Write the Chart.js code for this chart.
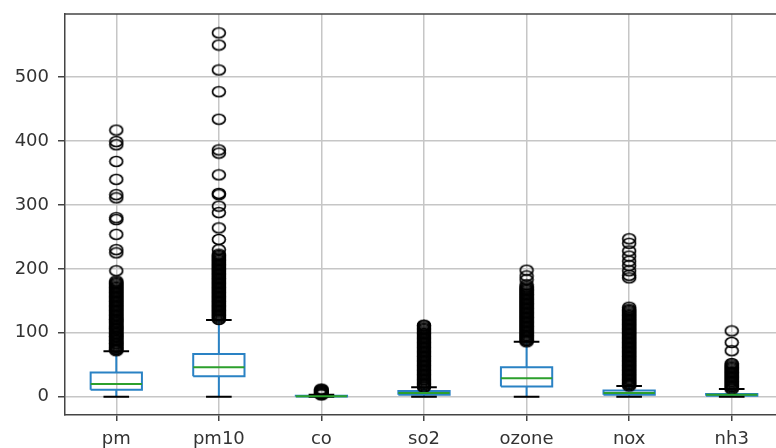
<!DOCTYPE html>
<html>
<head>
<meta charset="utf-8">
<script src="https://cdn.jsdelivr.net/npm/chart.js@4"></script>
<style>
  html, body { margin: 0; padding: 0; background: #fff; overflow: hidden; }
  #wrap { width: 790px; height: 448px; }
</style>
</head>
<body>
<div id="wrap"><canvas id="box" width="790" height="448"></canvas></div>
<script>
// ─── DATA ───────────────────────────────
const categories = ['pm', 'pm10', 'co', 'so2', 'ozone', 'nox', 'nh3'];
const yTicks = [0, 100, 200, 300, 400, 500];

// five-number summaries
const whiskerLow  = [0,  0,   0,   0,  0,  0,  0];
const quart1      = [11, 32,  0.5, 3,  16, 3,  1.5];
const medians     = [20, 46,  0.9, 6,  29, 6,  3];
const quart3      = [38, 67,  1.5, 9,  46, 10, 4.5];
const whiskerHigh = [71, 120, 3,   15, 86, 17, 12];

// fliers (the dense black columns are many overlapping circles)
const fliersPm = [72, 74, 75, 77, 79, 81, 83, 84, 86, 88, 90, 92, 94, 95, 97, 99, 101, 103, 105, 107,
  108, 110, 112, 114, 116, 118, 120, 121, 123, 125, 127, 129, 131, 133, 135, 137, 139, 141, 143, 145,
  147, 149, 151, 153, 155, 157, 159, 161, 163, 165, 167, 169, 171, 173, 175, 177, 179, 181,
  197, 225, 230, 254, 277, 280, 311, 316, 340, 368, 394, 399, 417];
const fliersPm10 = [121, 123, 125, 127, 129, 131, 133, 135, 137, 139, 141, 143, 145, 147, 149, 151,
  153, 155, 157, 159, 161, 163, 165, 167, 169, 171, 173, 175, 177, 179, 181, 183, 185, 187, 189, 191,
  193, 195, 197, 199, 201, 203, 205, 207, 209, 211, 213, 215, 217, 219, 221, 223,
  230, 246, 264, 288, 298, 316, 318, 347, 381, 386, 434, 477, 511, 550, 569];
const fliersCo = [3, 4, 5, 6, 7, 8, 9, 10, 11, 12];
const fliersSo2 = [15, 17, 19, 21, 23, 25, 27, 29, 31, 33, 35, 37, 39, 41, 43, 45, 47, 49, 51, 53,
  55, 57, 59, 61, 63, 65, 67, 69, 71, 73, 75, 77, 79, 81, 83, 85, 87, 89, 91, 93, 95, 97, 99, 101,
  103, 105, 107, 109, 111, 112];
const fliersOzone = [86, 88, 90, 92, 94, 96, 98, 100, 102, 104, 106, 108, 110, 112, 114, 116, 118,
  120, 122, 124, 126, 128, 130, 132, 134, 136, 138, 140, 142, 144, 146, 148, 150, 152, 154, 156, 158,
  160, 162, 164, 166, 168, 170, 172, 175, 183, 189, 198];
const fliersNox = [17, 19, 21, 23, 25, 27, 29, 31, 33, 35, 37, 39, 41, 43, 45, 47, 49, 51, 53, 55,
  57, 59, 61, 63, 65, 67, 69, 71, 73, 75, 77, 79, 81, 83, 85, 87, 89, 91, 93, 95, 97, 99, 101, 103,
  105, 107, 109, 111, 113, 115, 117, 119, 121, 123, 125, 127, 129, 131, 133, 135, 137, 140,
  186, 190, 197, 205, 212, 220, 228, 240, 247];
const fliersNh3 = [12, 14, 16, 18, 20, 22, 24, 26, 28, 30, 32, 34, 36, 38, 40, 42, 44, 46, 48, 50, 52,
  72, 85, 103];
const fliers = [fliersPm, fliersPm10, fliersCo, fliersSo2, fliersOzone, fliersNox, fliersNh3];


// ─── BUILD SEGMENTS ─────────────────────
const BOX_HALF = 0.25;
const CAP_HALF = 0.125;
const gap = i => ({ x: i, y: null });

const boxPts = [], medPts = [], whiskPts = [], capPts = [], flierPts = [];
categories.forEach((c, k) => {
  const i = k + 1;
  boxPts.push(
    { x: i - BOX_HALF, y: quart1[k] }, { x: i + BOX_HALF, y: quart1[k] },
    { x: i + BOX_HALF, y: quart3[k] }, { x: i - BOX_HALF, y: quart3[k] },
    { x: i - BOX_HALF, y: quart1[k] }, gap(i));
  medPts.push({ x: i - BOX_HALF, y: medians[k] }, { x: i + BOX_HALF, y: medians[k] }, gap(i));
  whiskPts.push(
    { x: i, y: quart1[k] }, { x: i, y: whiskerLow[k] }, gap(i),
    { x: i, y: quart3[k] }, { x: i, y: whiskerHigh[k] }, gap(i));
  capPts.push(
    { x: i - CAP_HALF, y: whiskerLow[k] }, { x: i + CAP_HALF, y: whiskerLow[k] }, gap(i),
    { x: i - CAP_HALF, y: whiskerHigh[k] }, { x: i + CAP_HALF, y: whiskerHigh[k] }, gap(i));
  fliers[k].forEach(v => flierPts.push({ x: i, y: v }));
});

// hollow ellipse marker (the source figure is slightly stretched)
const marker = document.createElement('canvas');
marker.width = 16; marker.height = 13;
const mctx = marker.getContext('2d');
mctx.strokeStyle = '#000';
mctx.lineWidth = 1.7;
mctx.beginPath();
mctx.ellipse(8, 6.5, 6.4, 5, 0, 0, Math.PI * 2);
mctx.stroke();

const lineSet = (data, color, order) => ({
  data, borderColor: color, borderWidth: 2, pointRadius: 0, fill: false,
  showLine: true, spanGaps: false, tension: 0, order
});

// top spine (the right one is out of frame)
const topSpine = {
  id: 'topSpine',
  afterDraw(chart) {
    const { ctx, chartArea } = chart;
    ctx.save();
    ctx.strokeStyle = '#444';
    ctx.lineWidth = 1.5;
    ctx.beginPath();
    ctx.moveTo(chartArea.left, chartArea.top);
    ctx.lineTo(chartArea.right, chartArea.top);
    ctx.stroke();
    ctx.restore();
  }
};

const tickFont = { family: 'DejaVu Sans', size: 18 };

new Chart(document.getElementById('box'), {
  type: 'line',
  data: {
    datasets: [
      lineSet(medPts, '#2ca02c', 0),
      lineSet(capPts, '#000000', 1),
      {
        data: flierPts, showLine: false, pointStyle: marker, pointRadius: 6,
        pointHoverRadius: 6, order: 2
      },
      lineSet(boxPts, '#2a82c4', 3),
      lineSet(whiskPts, '#2a82c4', 4)
    ]
  },
  options: {
    responsive: false,
    animation: false,
    devicePixelRatio: 1,
    layout: { padding: { top: 14, right: 4, left: 0, bottom: 0 } },
    plugins: { legend: { display: false }, tooltip: { enabled: false } },
    scales: {
      x: {
        type: 'linear',
        min: 0.5,
        max: 7.5,
        afterBuildTicks: s => { s.ticks = categories.map((c, k) => ({ value: k + 1 })); },
        afterFit: s => { s.height = 33; s.paddingLeft = 0; s.paddingRight = 0; },
        grid: { color: '#c6c6c6', lineWidth: 1.5, tickLength: 6, tickColor: '#444' },
        border: { color: '#444', width: 1.5 },
        ticks: {
          color: '#333', font: tickFont, padding: 8, maxRotation: 0,
          callback: v => categories[Math.round(v) - 1]
        }
      },
      y: {
        type: 'linear',
        min: -28.5,
        max: 598.5,
        afterBuildTicks: s => { s.ticks = yTicks.map(v => ({ value: v })); },
        afterFit: s => { s.width = 65; s.paddingTop = 0; s.paddingBottom = 0; },
        grid: { color: '#c6c6c6', lineWidth: 1.5, tickLength: 7, tickColor: '#444' },
        border: { color: '#444', width: 1.5 },
        ticks: { color: '#333', font: tickFont, padding: 9 }
      }
    }
  },
  plugins: [topSpine]
});
</script>
</body>
</html>
